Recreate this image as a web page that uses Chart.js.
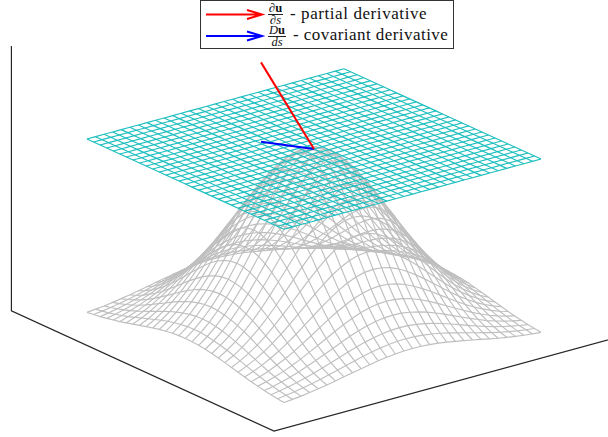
<!DOCTYPE html>
<html>
<head>
<meta charset="utf-8">
<title>Partial and covariant derivative</title>
<script src="https://cdn.jsdelivr.net/npm/chart.js@4"></script>
<style>
    html, body { margin: 0; padding: 0; background: #fff; }
    #wrap { position: relative; width: 608px; height: 437px; overflow: hidden; }
    #legend { position: absolute; left: 200px; top: 0; width: 252px; height: 47px; border: 1px solid #333; background: #fff;
        font-family: "Liberation Serif", serif; color: #111; box-sizing: content-box; }
    #legend svg { position: absolute; left: 0; top: 0; }
    .frac { position: absolute; left: 67px; text-align: center; font-size: 12.5px; line-height: 11px; }
    .frac .num { display: block; border-bottom: 1px solid #222; padding: 0 1px; }
    .frac .den { display: block; font-style: italic; }
    .label { position: absolute; font-size: 17px; line-height: 18px; white-space: nowrap; letter-spacing: 0.45px; }
</style>
</head>
<body>
<div id="wrap">
    <canvas id="chart" width="608" height="437"></canvas>
    <div id="legend">
        <svg width="252" height="47">
            <path d="M5 13.5H60M46 9L61 13.5L46 18" fill="none" stroke="#f00" stroke-width="2"/>
            <path d="M5 35H60M46 30.500L61 35L46 39.500" fill="none" stroke="#00f" stroke-width="2"/>
        </svg>
        <span class="frac" style="top:2px"><span class="num">∂<b>u</b></span><span class="den">∂s</span></span>
        <span class="label" style="left:89px;top:4px;letter-spacing:0.58px">- partial derivative</span>
        <span class="frac" style="top:24px"><span class="num"><i>D</i><b>u</b></span><span class="den">ds</span></span>
        <span class="label" style="left:92px;top:25px">- covariant derivative</span>
    </div>
</div>
<script>
// ===== DATA =====
const gridTicks = [-1, -14/15, -13/15, -12/15, -11/15, -10/15, -9/15, -8/15, -7/15, -6/15, -5/15, -4/15, -3/15, -2/15, -1/15, 0,
    1/15, 2/15, 3/15, 4/15, 5/15, 6/15, 7/15, 8/15, 9/15, 10/15, 11/15, 12/15, 13/15, 14/15, 1];

// heights of one quarter of the bump, row and column = grid steps away from the centre
const bumpHeights = [
    [1, .991, .963, .919, .861, .792, .715, .633, .550, .470, .393, .323, .261, .207, .161, .123],
    [.991, .982, .954, .911, .853, .785, .709, .627, .545, .466, .389, .320, .259, .205, .160, .122],
    [.963, .954, .927, .885, .829, .763, .689, .610, .530, .453, .378, .311, .251, .199, .155, .118],
    [.919, .911, .885, .845, .791, .728, .657, .582, .505, .432, .361, .297, .240, .190, .148, .113],
    [.861, .853, .829, .791, .741, .682, .616, .545, .474, .405, .338, .278, .225, .178, .139, .106],
    [.792, .785, .763, .728, .682, .627, .566, .501, .436, .372, .311, .256, .207, .164, .128, .097],
    [.715, .709, .689, .657, .616, .566, .511, .453, .393, .336, .281, .231, .187, .148, .115, .088],
    [.633, .627, .610, .582, .545, .501, .453, .401, .348, .298, .249, .204, .165, .131, .102, .078],
    [.550, .545, .530, .505, .474, .436, .393, .348, .303, .259, .216, .178, .144, .114, .089, .068],
    [.470, .466, .453, .432, .405, .372, .336, .298, .259, .221, .185, .152, .123, .097, .076, .058],
    [.393, .389, .378, .361, .338, .311, .281, .249, .216, .185, .154, .127, .103, .081, .063, .048],
    [.323, .320, .311, .297, .278, .256, .231, .204, .178, .152, .127, .104, .084, .067, .052, .040],
    [.261, .259, .251, .240, .225, .207, .187, .165, .144, .123, .103, .084, .068, .054, .042, .032],
    [.207, .205, .199, .190, .178, .164, .148, .131, .114, .097, .081, .067, .054, .043, .033, .025],
    [.161, .160, .155, .148, .139, .128, .115, .102, .089, .076, .063, .052, .042, .033, .026, .020],
    [.123, .122, .118, .113, .106, .097, .088, .078, .068, .058, .048, .040, .032, .025, .020, .015]
];

const planeHeight = 1;

// floor and wall of the box, as u, v, z
const boxU = [-1.333, -1.333, 1.333, 1.333];
const boxV = [-1.333, -1.333, -1.333, 1.333];
const boxZ = [1.51, 0.005, 0.005, 0.005];

// derivative vectors, from their far end to the touching point at the top
const partialU = [-0.302, 0], partialV = [-0.181, 0], partialZ = [1.451, 1];
const covariantU = [-0.302, 0], covariantV = [-0.181, 0], covariantZ = [1, 1];

// ===== VIEW =====
const view = { x0: 314, y0: 149, ux: 98.5, uy: 45.1, vx: 128.5, vy: -35.1, zy: 176 };

function project(u, v, z) {
    return {
        x: view.x0 + view.ux * u + view.vx * v,
        y: view.y0 + view.uy * u + view.vy * v + view.zy * (planeHeight - z)
    };
}

function bumpAt(i, j) {
    return bumpHeights[Math.abs(i - 15)][Math.abs(j - 15)];
}

function lineDataset(points, color, width) {
    return { data: points, borderColor: color, borderWidth: width, pointRadius: 0, tension: 0, fill: false, borderCapStyle: 'butt' };
}

function meshDatasets(heightAt, color) {
    const sets = [];
    gridTicks.forEach((_, i) => {
        sets.push(lineDataset(gridTicks.map((v, j) => project(gridTicks[i], v, heightAt(i, j))), color, 1.15));
        sets.push(lineDataset(gridTicks.map((u, j) => project(u, gridTicks[i], heightAt(j, i))), color, 1.15));
    });
    return sets;
}

function polyline(us, vs, zs, color, width) {
    return lineDataset(us.map((u, k) => project(u, vs[k], zs[k])), color, width);
}

// ===== CHART =====
// first dataset ends up on top
const datasets = [
    polyline(partialU, partialV, partialZ, '#ff0000', 2),
    polyline(covariantU, covariantV, covariantZ, '#0000ff', 2),
    ...meshDatasets(() => planeHeight, '#1fbfbf'),
    ...meshDatasets(bumpAt, '#bfbfbf'),
    polyline(boxU, boxV, boxZ, '#262626', 1.2)
];

new Chart(document.getElementById('chart').getContext('2d'), {
    type: 'scatter',
    data: { datasets: datasets },
    options: {
        responsive: false,
        animation: false,
        showLine: true,
        layout: { padding: 0 },
        plugins: { legend: { display: false }, tooltip: { enabled: false } },
        scales: {
            x: { type: 'linear', display: false, min: 0, max: 608 },
            y: { type: 'linear', display: false, min: 0, max: 437, reverse: true }
        }
    }
});
</script>
</body>
</html>
